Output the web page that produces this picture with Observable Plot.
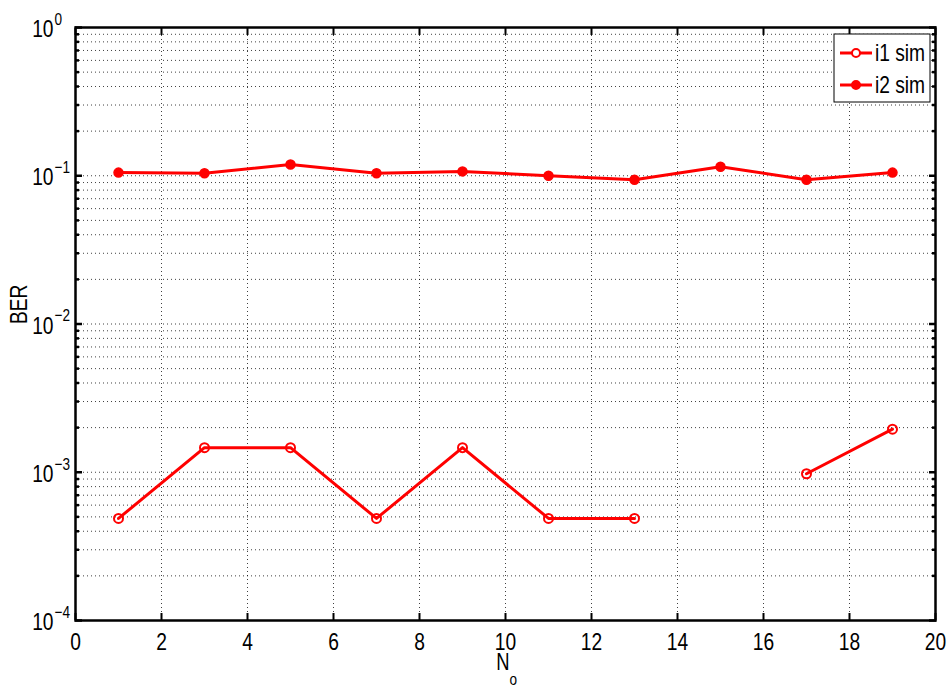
<!DOCTYPE html>
<html><head><meta charset="utf-8">
<script src="https://cdn.jsdelivr.net/npm/d3@7"></script>
<script src="https://cdn.jsdelivr.net/npm/@observablehq/plot@0.6"></script>
<style>body{margin:0;background:#fff}</style>
</head><body><div id="chart"></div>
<script>
// ---- data ----
const xValues = [1, 3, 5, 7, 9, 11, 13, 15, 17, 19];
const i1Sim = [4.88e-4, 1.465e-3, 1.465e-3, 4.88e-4, 1.465e-3, 4.88e-4, 4.88e-4, null, 9.77e-4, 1.953e-3];
const i2Sim = [0.105, 0.104, 0.119, 0.104, 0.107, 0.100, 0.094, 0.115, 0.094, 0.105];
const seriesNames = ["i1 sim", "i2 sim"];
const xTicks = [0, 2, 4, 6, 8, 10, 12, 14, 16, 18, 20];
const yDecades = [1e-4, 1e-3, 1e-2, 1e-1, 1];
const yExponents = ["\u22124", "\u22123", "\u22122", "\u22121", "0"];
const xLabel = "N";
const xLabelSub = "o";
const yLabel = "BER";

const i1 = xValues.map((x, i) => ({x, y: i1Sim[i]}));
const i2 = xValues.map((x, i) => ({x, y: i2Sim[i]}));
const minorTicks = yDecades.slice(0, -1).flatMap(d => d3.range(2, 10).map(k => k * d));
const allYTicks = [...yDecades, ...minorTicks];
const decadeRows = yDecades.map((v, i) => ({v, e: yExponents[i]}));

const FONT = "'Liberation Sans', Arial, Helvetica, sans-serif";
const RED = "#ff0000";
const gridStyle = {stroke: "#000", strokeOpacity: 0.75, strokeWidth: 1, strokeDasharray: "1,3"};

const svg = Plot.plot({
  width: 950,
  height: 692,
  marginLeft: 75,
  marginRight: 15,
  marginTop: 27,
  marginBottom: 72,
  style: {fontFamily: FONT, fontSize: "24px", color: "#000", background: "#fff"},
  x: {domain: [0, 20], label: null},
  y: {type: "log", domain: [1e-4, 1], label: null},
  marks: [
    Plot.gridY(allYTicks, gridStyle),
    Plot.gridX(xTicks, gridStyle),
    // ticks pointing inward
    Plot.axisX(xTicks, {anchor: "bottom", tickSize: -7, tickFormat: () => "", strokeWidth: 2, label: null}),
    Plot.axisX(xTicks, {anchor: "top", tickSize: -7, tickFormat: () => "", strokeWidth: 2, label: null}),
    Plot.axisY(yDecades, {anchor: "left", tickSize: -7, tickFormat: () => "", strokeWidth: 2.5, label: null}),
    Plot.axisY(yDecades, {anchor: "right", tickSize: -7, tickFormat: () => "", strokeWidth: 2.5, label: null}),
    Plot.axisY(minorTicks, {anchor: "left", tickSize: -4, tickFormat: () => "", strokeWidth: 2.5, label: null}),
    Plot.axisY(minorTicks, {anchor: "right", tickSize: -4, tickFormat: () => "", strokeWidth: 2.5, label: null}),
    // tick labels
    Plot.axisX(xTicks, {anchor: "bottom", tickSize: 0, tickPadding: 12, fontSize: 24, label: null}),
    Plot.axisY(yDecades, {anchor: "left", tickSize: 0, tickPadding: 22, dy: 2, tickFormat: () => "10", fontSize: 24, label: null}),
    Plot.text(decadeRows, {y: "v", text: "e", frameAnchor: "left", dx: -21, dy: -8, textAnchor: "start", fontSize: 17}),
    // axis titles
    Plot.text([yLabel], {frameAnchor: "left", dx: -56, rotate: -90, fontSize: 24, text: d => d}),
    Plot.text([xLabel], {frameAnchor: "bottom", dx: 4, dy: 49, textAnchor: "end", fontSize: 23, text: d => d}),
    Plot.text([xLabelSub], {frameAnchor: "bottom", dx: 4, dy: 64, textAnchor: "start", fontSize: 17, text: d => d}),
    // data
    Plot.line(i2, {x: "x", y: "y", stroke: RED, strokeWidth: 3}),
    Plot.dot(i2, {x: "x", y: "y", r: 4.5, fill: RED, stroke: RED}),
    Plot.line(i1, {x: "x", y: "y", stroke: RED, strokeWidth: 3}),
    Plot.dot(i1.filter(d => d.y != null), {x: "x", y: "y", r: 4.5, fill: "none", stroke: RED, strokeWidth: 2}),
    Plot.frame({stroke: "#000", strokeWidth: 2.5})
  ]
});

// legend (inside the plot, top-right)
const lg = d3.select(svg).append("g").attr("font-family", FONT).attr("font-size", 24);
lg.append("rect").attr("x", 834).attr("y", 34).attr("width", 96).attr("height", 68)
  .attr("fill", "#fff").attr("stroke", "#000").attr("stroke-width", 1);
seriesNames.forEach((name, i) => {
  const cy = 53 + i * 32;
  lg.append("line").attr("x1", 840).attr("x2", 872).attr("y1", cy).attr("y2", cy)
    .attr("stroke", RED).attr("stroke-width", 3);
  lg.append("circle").attr("cx", 856).attr("cy", cy).attr("r", 4)
    .attr("fill", i === 0 ? "#fff" : RED).attr("stroke", RED).attr("stroke-width", 2);
  lg.append("text").attr("x", 875).attr("y", cy).attr("dy", "0.35em")
    .attr("text-anchor", "start").attr("fill", "#000").text(name);
});

document.getElementById("chart").appendChild(svg);

// condense all texts horizontally (reference uses a narrow face), keeping each anchor in place
const SX = 0.8;
svg.querySelectorAll("text").forEach(el => {
  const b = el.getBBox();
  if (!b.width) return;
  const anchor = getComputedStyle(el).textAnchor;
  const cx = anchor === "end" ? b.x + b.width : anchor === "start" ? b.x : b.x + b.width / 2;
  const t = el.getAttribute("transform") || "";
  el.setAttribute("transform", `${t} translate(${cx},0) scale(${SX},1) translate(${-cx},0)`.trim());
});
</script>
</body></html>
